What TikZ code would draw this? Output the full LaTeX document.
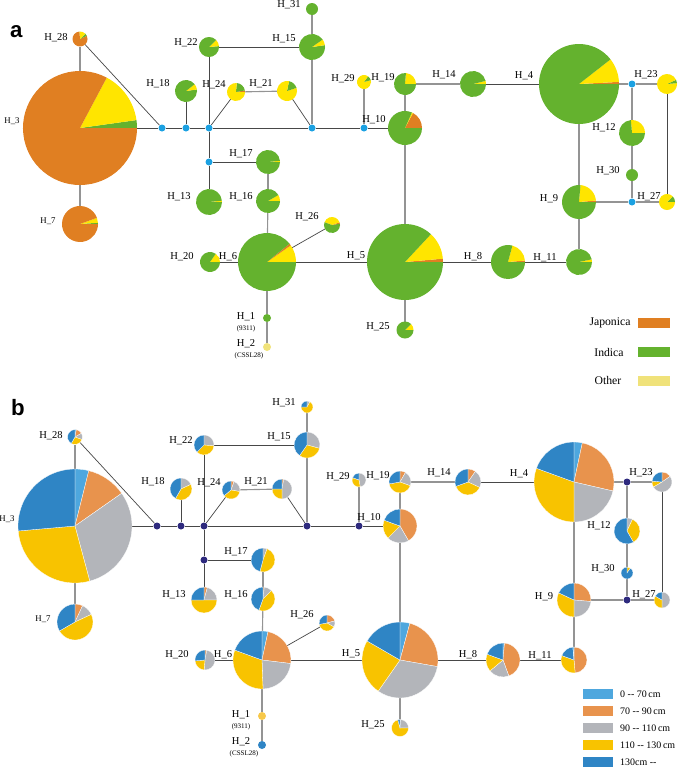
\documentclass[tikz,border=0pt]{standalone}
\usepackage{fontspec}
\setmainfont{Liberation Serif}
\newfontfamily\panelfont{Liberation Sans}
\usetikzlibrary{calc}

\definecolor{japo}{HTML}{E07F22}
\definecolor{indi}{HTML}{64B22E}
\definecolor{yelo}{HTML}{FFE500}
\definecolor{othr}{HTML}{F0E27A}
\definecolor{cmA}{HTML}{4EA7DE}% 0--70
\definecolor{cmB}{HTML}{E8934D}% 70--90
\definecolor{cmC}{HTML}{B3B5BA}% 90--110
\definecolor{cmD}{HTML}{F8C300}% 110--130
\definecolor{cmE}{HTML}{2F85C5}% 130--
\definecolor{hone}{HTML}{F7C84A}
\definecolor{juncA}{HTML}{1BA1E2}
\definecolor{juncB}{HTML}{2E2A7E}

\tikzset{
  hap/.style={circle,inner sep=0pt,outer sep=0pt,minimum size=#1*0.6mm},
  junc/.style={circle,fill=#1,inner sep=0pt,minimum size=2.1mm},
  gedge/.style={line width=0.95pt,black!42},
  dedge/.style={line width=0.6pt,black!72},
  hlbl/.style={font=\fontsize{9}{10}\selectfont,inner sep=0pt},
  slbl/.style={font=\fontsize{7.5}{8}\selectfont,inner sep=0pt},
  sublbl/.style={font=\fontsize{6}{7}\selectfont,inner sep=0pt},
  panellbl/.style={font=\panelfont\bfseries\fontsize{19}{20}\selectfont,inner sep=0pt,anchor=base west},
  legbox/.style={minimum width=9.6mm,minimum height=3mm,inner sep=0pt},
  legboxb/.style={minimum width=9mm,minimum height=3mm,inner sep=0pt},
  legtxt/.style={font=\fontsize{10}{11}\selectfont,inner sep=0pt},
  legtxtb/.style={font=\fontsize{8.5}{9}\selectfont,inner sep=0pt,anchor=west},
}

% pie, counter-clockwise from east: node, radius (px), start/end/colour
\newcommand\piea[3]{%
  \pgfmathsetlengthmacro\pierad{#2*0.3mm}%
  \foreach \s/\e/\c in {#3}
    \fill[\c] (#1.center) -- ++(\s:\pierad)
      arc[start angle=\s,end angle=\e,radius=\pierad] -- cycle;}
% pie, clockwise from north
\newcommand\pieb[3]{%
  \pgfmathsetlengthmacro\pierad{#2*0.3mm}%
  \foreach \s/\e/\c in {#3}{%
    \pgfmathsetmacro\sa{90-\s}\pgfmathsetmacro\ea{90-\e}%
    \fill[\c,draw=white,line width=0.25pt] (#1.center) -- ++(\sa:\pierad)
      arc[start angle=\sa,end angle=\ea,radius=\pierad] -- cycle;}}

\begin{document}
\begin{tikzpicture}[x=0.3mm,y=-0.3mm]
  \useasboundingbox (0,0) rectangle (685,769);

  \foreach \p/\jc/\dx/\dy in {a/juncA/0/0,b/juncB/-5/398}{
  \begin{scope}[shift={(\dx,\dy)}]
    % haplotypes
    \foreach \n/\x/\y/\r in {3/80/128/57,28/80/39/7.5,7/80/224/18,
        18/186/91/11,22/209/47/10,15/312/47/13,31/312/9/6,24/236/92/9,
        21/287/91/10,17/268/162/12,13/209/202/13,16/268/201/12,
        26/332/225/8,6/267/262/29,20/210/262/10,5/405/262/38,
        25/405/330/8.5,1/267/318/4,2/267/347/4,8/508/262/17,
        11/579/262/13,9/579/202/17,4/579/84/40,14/473/84/13,
        19/405/84/11,29/364/82/7,10/405/128/17,23/667/84/10,
        12/632/133/13,30/632/175/6,27/667/202/8}
      \node[hap=\r] (\p\n) at (\x,\y) {};
    % median vectors
    \foreach \n/\x/\y in {j1/162/128,j2/186/128,j3/209/128,j4/312/128,
        j5/364/128,j6/209/162,j7/632/84,j8/632/202}
      \node[junc=\jc] (\p\n) at (\x,\y) {};
    % links
    \foreach \u/\v in {3/28,3/7,15/31,15/j4,24/21,17/16,16/6,6/1,1/2,
        5/10,5/25,j5/29,10/19,19/14,4/j7,j7/23,j7/12,12/30,30/j8,
        4/9,9/j8,j8/27,9/11}
      \draw[gedge] (\p\u) -- (\p\v);
    \foreach \u/\v in {28/j1,3/j1,j1/j2,j2/j3,j3/j4,j4/j5,j5/10,j2/18,
        j3/22,22/15,j3/24,21/j4,j3/j6,j6/17,j6/13,6/26,20/6,6/5,5/8,
        8/11,14/4,23/27}
      \draw[dedge] (\p\u) -- (\p\v);
    % labels
    \foreach \n/\x/\y in {28/56/38,18/158/84,24/214/85,21/261/84,
        22/186/43,15/284/39,31/289/5,17/241/154,13/179/197,16/241/197,
        26/307/217,20/182/257,6/228/257,5/356/256,8/473/257,11/545/258,
        25/378/327,1/246/317,2/246/344,29/343/79,19/383/78,14/444/75,
        4/524/76,10/374/120,23/646/75,12/604/128,30/608/171,27/649/197,
        9/549/199}
      \node[hlbl] (\p l\n) at (\x,\y) {H\_\n};
    \node[slbl] (\p l3) at (12,121) {H\_3};
    \node[slbl] (\p l7) at (48,221) {H\_7};
    \node[sublbl] (\p s1) at (246,329) {(9311)};
    \node[sublbl] (\p s2) at (249,356) {(CSSL28)};
  \end{scope}}

  \node[panellbl] (pa) at (10,37) {a};
  \node[panellbl] (pb) at (11,415) {b};

  % panel a: subspecies
  \piea{a3}{57}{0/8/indi,8/62/yelo,62/360/japo}
  \piea{a28}{7.5}{0/25/japo,25/45/indi,45/95/yelo,95/360/japo}
  \piea{a7}{18}{0/4/indi,4/20/yelo,20/360/japo}
  \piea{a18}{11}{0/8/indi,8/38/yelo,38/360/indi}
  \piea{a22}{10}{0/5/indi,5/45/yelo,45/360/indi}
  \piea{a15}{13}{0/8/indi,8/35/yelo,35/360/indi}
  \piea{a31}{6}{0/360/indi}
  \piea{a24}{9}{0/10/japo,10/85/indi,85/360/yelo}
  \piea{a21}{10}{0/18/yelo,18/78/indi,78/360/yelo}
  \piea{a29}{7}{0/15/yelo,15/55/indi,55/360/yelo}
  \piea{a19}{11}{0/85/yelo,85/360/indi}
  \piea{a14}{13}{0/14/yelo,14/360/indi}
  \piea{a4}{40}{0/3/japo,3/38/yelo,38/360/indi}
  \piea{a10}{17}{0/62/japo,62/66/yelo,66/360/indi}
  \piea{a23}{10}{0/5/yelo,5/25/indi,25/360/yelo}
  \piea{a12}{13}{0/95/yelo,95/360/indi}
  \piea{a30}{6}{0/360/indi}
  \piea{a9}{17}{0/5/japo,5/85/yelo,85/360/indi}
  \piea{a27}{8}{0/45/indi,45/360/yelo}
  \piea{a17}{12}{0/6/yelo,6/360/indi}
  \piea{a13}{13}{0/6/yelo,6/360/indi}
  \piea{a16}{12}{0/30/yelo,30/360/indi}
  \piea{a26}{8}{0/10/indi,10/20/japo,20/160/yelo,160/360/indi}
  \piea{a6}{29}{0/35/yelo,35/39/japo,39/360/indi}
  \piea{a20}{10}{0/55/yelo,55/360/indi}
  \piea{a5}{38}{0/5/japo,5/47/yelo,47/360/indi}
  \piea{a25}{8.5}{0/45/yelo,45/360/indi}
  \piea{a8}{17}{0/5/japo,5/75/yelo,75/360/indi}
  \piea{a11}{13}{0/12/yelo,12/360/indi}
  \piea{a1}{4}{0/360/indi}
  \piea{a2}{4}{0/360/othr}

  % panel b: plant height
  \pieb{b3}{57}{0/14/cmA,14/55/cmB,55/165/cmC,165/265/cmD,265/360/cmE}
  \pieb{b28}{7.5}{0/10/cmA,10/60/cmB,60/110/cmC,110/210/cmD,210/360/cmE}
  \pieb{b7}{18}{0/25/cmB,25/65/cmC,65/240/cmD,240/360/cmE}
  \pieb{b18}{11}{0/65/cmC,65/210/cmD,210/360/cmE}
  \pieb{b22}{10}{0/95/cmC,95/225/cmD,225/360/cmE}
  \pieb{b15}{13}{0/105/cmC,105/215/cmD,215/360/cmE}
  \pieb{b31}{6}{0/30/cmC,30/270/cmD,270/360/cmE}
  \pieb{b24}{9}{0/20/cmB,20/100/cmC,100/230/cmD,230/360/cmE}
  \pieb{b21}{10}{0/10/cmB,10/180/cmC,180/270/cmD,270/360/cmE}
  \pieb{b29}{7}{0/170/cmC,170/290/cmD,290/360/cmE}
  \pieb{b19}{11}{0/30/cmB,30/110/cmC,110/260/cmD,260/360/cmE}
  \pieb{b14}{13}{0/35/cmB,35/115/cmC,115/250/cmD,250/360/cmE}
  \pieb{b4}{40}{0/12/cmA,12/103/cmB,103/180/cmC,180/290/cmD,290/360/cmE}
  \pieb{b23}{10}{0/55/cmB,55/240/cmC,240/275/cmD,275/360/cmE}
  \pieb{b12}{13}{0/25/cmC,25/150/cmD,150/360/cmE}
  \pieb{b30}{6}{0/35/cmD,35/360/cmE}
  \pieb{b10}{17}{0/150/cmB,150/225/cmC,225/290/cmD,290/360/cmE}
  \pieb{b9}{17}{0/95/cmB,95/180/cmC,180/295/cmD,295/360/cmE}
  \pieb{b27}{8}{0/180/cmC,180/300/cmD,300/360/cmE}
  \pieb{b17}{12}{0/20/cmC,20/195/cmD,195/360/cmE}
  \pieb{b13}{13}{0/15/cmB,15/90/cmC,90/270/cmD,270/360/cmE}
  \pieb{b16}{12}{0/6/cmB,6/45/cmC,45/200/cmD,200/360/cmE}
  \pieb{b26}{8}{0/75/cmB,75/120/cmC,120/260/cmD,260/360/cmE}
  \pieb{b6}{29}{0/12/cmA,12/97/cmB,97/178/cmC,178/290/cmD,290/360/cmE}
  \pieb{b20}{10}{0/10/cmB,10/185/cmC,185/265/cmD,265/360/cmE}
  \pieb{b5}{38}{0/15/cmA,15/100/cmB,100/215/cmC,215/300/cmD,300/360/cmE}
  \pieb{b25}{8.5}{0/5/cmB,5/90/cmC,90/345/cmD,345/360/cmE}
  \pieb{b8}{17}{0/5/cmA,5/160/cmB,160/230/cmC,230/290/cmD,290/360/cmE}
  \pieb{b11}{13}{0/175/cmB,175/290/cmD,290/355/cmE,355/360/cmA}
  \piea{b1}{4}{0/360/hone}
  \piea{b2}{4}{0/360/cmE}

  % legend a
  \node[legtxt] (ljt) at (610,323) {Japonica};
  \node[legtxt] (lit) at (609,352) {Indica};
  \node[legtxt] (lot) at (608,380) {Other};
  \node[legbox,fill=japo] (ljb) at (654,323) {};
  \node[legbox,fill=indi] (lib) at (654,352) {};
  \node[legbox,fill=othr] (lob) at (654,381) {};

  % legend b
  \foreach \k/\c/\t [count=\i] in {1/cmA/{0 -{}- 70\,cm},2/cmB/{70 -{}- 90\,cm},
      3/cmC/{90 -{}- 110\,cm},4/cmD/{110 -{}- 130\,cm},5/cmE/{130cm -{}-}}{
    \node[legboxb,fill=\c] (hb\k) at (598,{677+17*\i}) {};
    \node[legtxtb] (ht\k) at (620,{677+17*\i}) {\t};
  }
\end{tikzpicture}
\end{document}
